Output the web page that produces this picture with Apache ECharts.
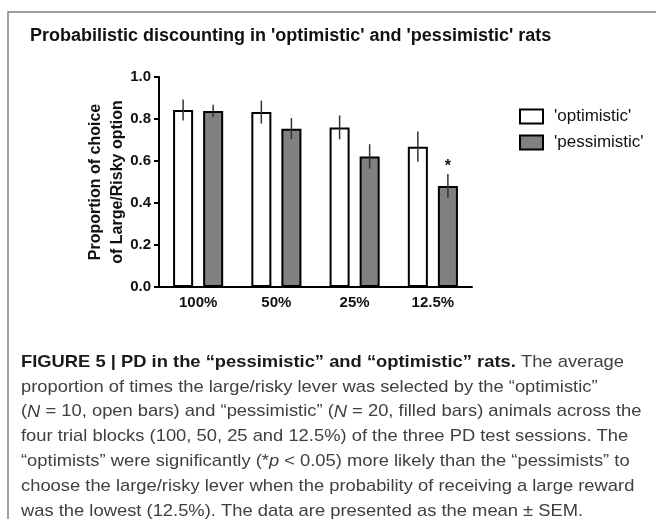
<!DOCTYPE html>
<html>
<head>
<meta charset="utf-8">
<script src="https://cdn.jsdelivr.net/npm/echarts@6/dist/echarts.min.js"></script>
<style>
html,body{margin:0;padding:0;background:#fff;}
#chart{width:656px;height:519px;}
</style>
</head>
<body>
<div id="chart"></div>
<script>
var categories = ['100%', '50%', '25%', '12.5%'];
var optimistic = [0.843, 0.833, 0.760, 0.668];
var optimisticSem = [0.050, 0.055, 0.057, 0.072];
var pessimistic = [0.838, 0.754, 0.622, 0.481];
var pessimisticSem = [0.030, 0.050, 0.058, 0.057];
var significance = ['', '', '', '*'];
var captionLines = [
  '{b|FIGURE 5 | PD in the \u201cpessimistic\u201d and \u201coptimistic\u201d rats.} The average',
  'proportion of times the large/risky lever was selected by the \u201coptimistic\u201d',
  '({i|N} = 10, open bars) and \u201cpessimistic\u201d ({i|N} = 20, filled bars) animals across the',
  'four trial blocks (100, 50, 25 and 12.5%) of the three PD test sessions. The',
  '\u201coptimists\u201d were significantly (*{i|p} < 0.05) more likely than the \u201cpessimists\u201d to',
  'choose the large/risky lever when the probability of receiving a large reward',
  'was the lowest (12.5%). The data are presented as the mean \u00b1 SEM.'
];

var FONT = '"Liberation Sans", Arial, sans-serif';
var CAPFONT = '"Liberation Sans", Arial, sans-serif';

function errData(means, sems) {
  return means.map(function (m, i) { return [i, m, sems[i]]; });
}

function makeErr(sign, withSig) {
  return function (params, api) {
    var idx = api.value(0);
    var mean = api.value(1);
    var sem = api.value(2);
    var band = api.size([1, 0])[0];
    var w = band * 0.64 / 2.5;
    var off = sign * 0.75 * w;
    var top = api.coord([idx, mean + sem]);
    var bot = api.coord([idx, mean - sem]);
    var x = top[0] + off;
    var children = [{
      type: 'line',
      shape: { x1: x, y1: top[1], x2: x, y2: bot[1] },
      style: { stroke: '#333', lineWidth: 1.5 }
    }];
    var sig = withSig ? (withSig[params.dataIndex] || '') : '';
    if (sig) {
      children.push({
        type: 'text',
        style: {
          text: sig, x: x, y: top[1] + 1, align: 'center', verticalAlign: 'bottom',
          font: 'bold 16px ' + FONT, fill: '#111'
        }
      });
    }
    return { type: 'group', children: children };
  };
}

var graphics = [{
  type: 'rect',
  shape: { x: 8, y: 12, width: 700, height: 600 },
  style: { fill: 'none', stroke: '#808080', lineWidth: 1.5 },
  silent: true
}];
var lineY0 = 362, lineStep = 24.9;
captionLines.forEach(function (t, i) {
  graphics.push({
    type: 'text',
    x: 21,
    y: lineY0 + i * lineStep,
    scaleX: 1.08,
    style: {
      text: t,
      font: 'normal 17px ' + CAPFONT,
      fill: '#404040',
      verticalAlign: 'middle',
      rich: {
        b: { fontWeight: 'bold', fontSize: 17, fontFamily: CAPFONT, fill: '#1a1a1a' },
        i: { fontStyle: 'italic', fontSize: 17, fontFamily: CAPFONT, fill: '#404040' }
      }
    }
  });
});

var chart = echarts.init(document.getElementById('chart'));
chart.setOption({
  animation: false,
  backgroundColor: '#fff',
  title: {
    text: "Probabilistic discounting in 'optimistic' and 'pessimistic' rats",
    left: 30, top: 27, padding: 0,
    textStyle: { fontFamily: FONT, fontSize: 18, fontWeight: 'bold', color: '#111' }
  },
  legend: {
    orient: 'vertical',
    left: 519, top: 108, padding: 0,
    icon: 'rect',
    itemWidth: 23, itemHeight: 14, itemGap: 9,
    data: ["'optimistic'", "'pessimistic'"],
    textStyle: { fontFamily: FONT, fontSize: 17, color: '#111', padding: [0, 0, 0, 6] }
  },
  grid: { left: 159, right: 184, top: 77, bottom: 232 },
  xAxis: {
    type: 'category',
    data: categories,
    axisLine: { lineStyle: { color: '#000', width: 2 } },
    axisTick: { alignWithLabel: true, length: 5, lineStyle: { color: '#000', width: 2 } },
    axisLabel: { margin: 8, fontFamily: FONT, fontSize: 15, fontWeight: 'bold', color: '#111' }
  },
  yAxis: {
    type: 'value',
    min: 0, max: 1, interval: 0.2,
    name: 'Proportion of choice\nof Large/Risky option',
    nameLocation: 'middle',
    nameGap: 30,
    nameMoveOverlap: false,
    nameTextStyle: { fontFamily: FONT, fontSize: 16, fontWeight: 'bold', color: '#111', lineHeight: 22 },
    axisLine: { show: true, lineStyle: { color: '#000', width: 2 } },
    axisTick: { show: true, length: 5, lineStyle: { color: '#000', width: 2 } },
    splitLine: { show: false },
    axisLabel: {
      margin: 8, fontFamily: FONT, fontSize: 15, fontWeight: 'bold', color: '#111',
      formatter: function (v) { return v.toFixed(1); }
    }
  },
  series: [{
    name: "'optimistic'",
    type: 'bar',
    data: optimistic,
    barCategoryGap: '36%',
    barGap: '50%',
    itemStyle: { color: '#ffffff', borderColor: '#000', borderWidth: 2 }
  }, {
    name: "'pessimistic'",
    type: 'bar',
    data: pessimistic,
    itemStyle: { color: '#808080', borderColor: '#000', borderWidth: 2 }
  }, {
    type: 'custom',
    renderItem: makeErr(-1, null),
    data: errData(optimistic, optimisticSem),
    z: 5
  }, {
    type: 'custom',
    renderItem: makeErr(1, significance),
    data: errData(pessimistic, pessimisticSem),
    z: 5
  }],
  graphic: graphics
});
</script>
</body>
</html>
